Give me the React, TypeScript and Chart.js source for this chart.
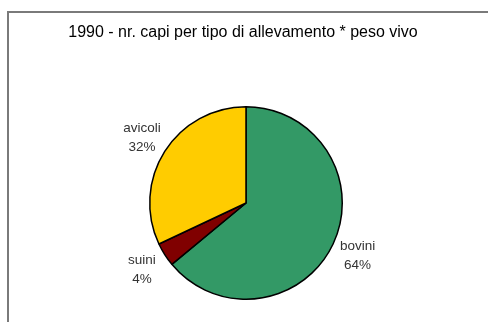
import React, { useEffect, useRef } from "react";
import { Chart, registerables } from "chart.js";

Chart.register(...registerables);

const title = "1990 - nr. capi per tipo di allevamento * peso vivo";
const categories = ["bovini", "suini", "avicoli"];
const values = [64, 4, 32];
const colors = ["#339966", "#800000", "#FFCC00"];

const labelPlugin = {
  id: "sliceLabels",
  afterDraw(chart: any) {
    const ctx = chart.ctx;
    ctx.save();
    // title
    ctx.fillStyle = "#000";
    ctx.font = "16px 'Liberation Sans', Arial, sans-serif";
    ctx.textAlign = "center";
    ctx.textBaseline = "middle";
    ctx.fillText(title, 243, 33);
    const meta = chart.getDatasetMeta(0);
    const total = values.reduce((a, b) => a + b, 0);
    ctx.font = "13.5px 'Liberation Sans', Arial, sans-serif";
    ctx.fillStyle = "#333";
    meta.data.forEach((arc: any, i: number) => {
      const p = arc.getProps(["x", "y", "startAngle", "endAngle", "outerRadius"], true);
      const mid = (p.startAngle + p.endAngle) / 2;
      const r = p.outerRadius + 27;
      const x = p.x + Math.cos(mid) * r;
      const y = p.y + Math.sin(mid) * r;
      const pct = Math.round((values[i] / total) * 100) + "%";
      ctx.fillText(categories[i], x, y - 9);
      ctx.fillText(pct, x, y + 10);
    });
    ctx.restore();
  },
};

export default function App() {
  const ref = useRef<HTMLCanvasElement>(null);
  useEffect(() => {
    if (!ref.current) return;
    const chart = new Chart(ref.current, {
      type: "pie",
      data: {
        labels: categories,
        datasets: [
          {
            data: values,
            backgroundColor: colors,
            borderColor: "#000",
            borderWidth: 1.5,
          },
        ],
      },
      options: {
        animation: false,
        responsive: false,
        maintainAspectRatio: false,
        layout: { padding: { top: 106, bottom: 22, left: 96, right: 92 } },
        plugins: {
          legend: { display: false },
          tooltip: { enabled: false },
          title: { display: false },
        },
      },
      plugins: [labelPlugin],
    });
    return () => chart.destroy();
  }, []);
  return (
    <div style={{ position: "fixed", left: 0, top: 0, width: 488, height: 322, background: "#fff", overflow: "hidden" }}>
      <div
        style={{
          position: "absolute",
          left: 7,
          top: 11,
          width: 600,
          height: 600,
          borderLeft: "2px solid #7a7a7a",
          borderTop: "2px solid #7a7a7a",
        }}
      />
      <canvas ref={ref} width={488} height={322} style={{ position: "absolute", left: 0, top: 0 }} />
    </div>
  );
}
